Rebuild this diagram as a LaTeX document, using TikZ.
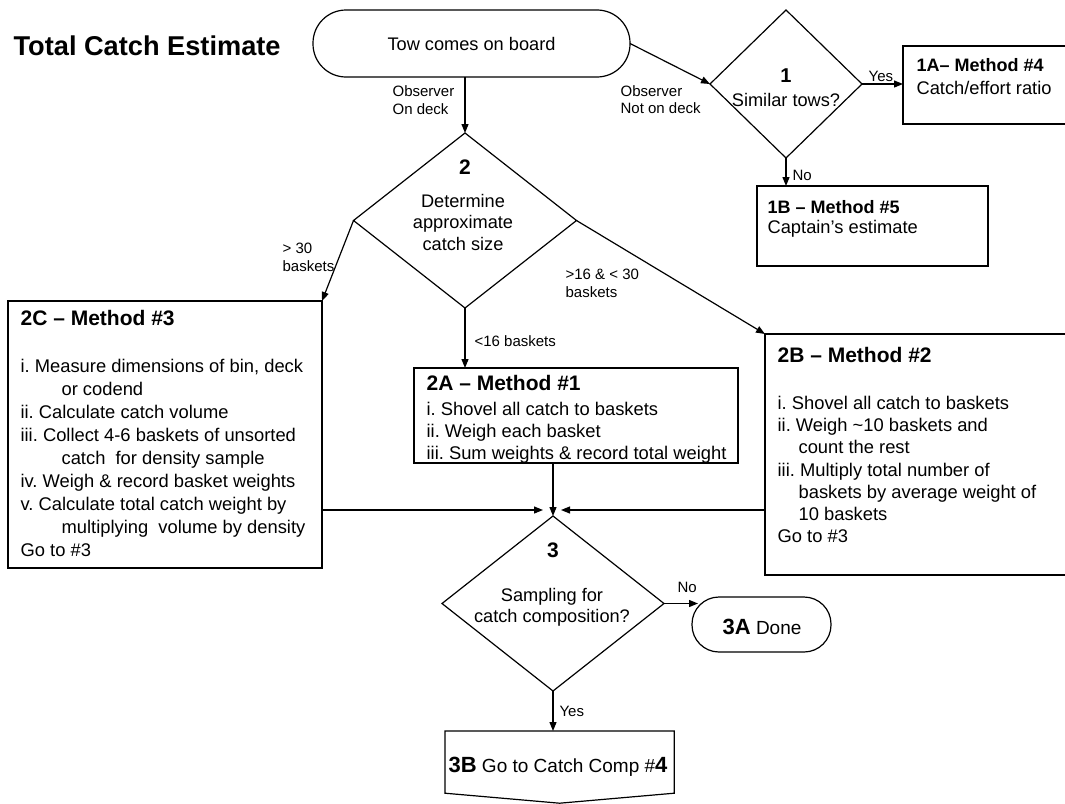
\documentclass[tikz,border=0pt]{standalone}
\usepackage{fontspec}
\setmainfont{Liberation Sans}
\usetikzlibrary{arrows.meta,shapes.geometric,calc}
\newcommand{\fsz}[2]{\fontsize{#1pt}{#2pt}\selectfont}
\frenchspacing
\begin{document}
\begin{tikzpicture}[x=1pt,y=-1pt,line width=1.2pt,
  box/.style={draw, rectangle, inner sep=0pt, outer sep=0pt, anchor=north west},
  term/.style={draw, rectangle, rounded corners=#1, inner sep=0pt, outer sep=0pt},
  dia/.style={draw, diamond, inner sep=0pt, outer sep=0pt},
  arr/.style={-{Triangle[length=9pt,width=7pt]}},
  lbl/.style={font=\fsz{15}{17.5}, anchor=base west, inner sep=0pt},
  lblm/.style={font=\fsz{15}{17.5}, anchor=north west, inner sep=0pt, align=left},
  body/.style={font=\fsz{18.35}{#1}, anchor=north west, inner sep=0pt, align=left},
  one/.style={font=\fsz{18.3}{22}, anchor=base west, inner sep=0pt},
  hd/.style={font=\bfseries\fsz{21}{24}, anchor=base west, inner sep=0pt},
  hds/.style={font=\bfseries\fsz{18}{22}, anchor=base west, inner sep=0pt},
  ctext/.style={font=\fsz{18.2}{#1}, anchor=north, inner sep=0pt, align=center},
  num/.style={font=\bfseries\fsz{21}{24}, anchor=base, inner sep=0pt},
]
\clip (0,0) rectangle (1065,803);
\fill[white] (0,0) rectangle (1065,803);

% title
\node[font=\bfseries\fsz{27.2}{32}, anchor=base west, inner sep=0pt] (title) at (13,55) {Total Catch Estimate};

% start terminal
\node[term=33pt, minimum width=317pt, minimum height=67pt, font=\fsz{18.2}{22}] (tow) at (471.5,43.5) {Tow comes on board};

% decision 1
\node[dia, minimum width=152pt, minimum height=148pt] (d1) at (786,84) {};
\node[num, font=\bfseries\fsz{20}{24}] (d1n) at (786,82) {1};
\node[ctext=21] (d1t) at (786,92.5) {Similar tows?};

% 1A and 1B
\node[box, minimum width=200pt, minimum height=78pt] (A1) at (903,46) {};
\node[hds] (A1h) at (916,71.5) {1A– Method \#4};
\node[one] (A1b) at (916,94.5) {Catch/effort ratio};
\node[box, minimum width=231pt, minimum height=80pt] (B1) at (757,186) {};
\node[hds] (B1h) at (767,213.5) {1B – Method \#5};
\node[one] (B1b) at (767,233.5) {Captain’s estimate};

% decision 2
\node[dia, minimum width=223pt, minimum height=175pt] (d2) at (465,220.5) {};
\node[num] (d2n) at (465,174.5) {2};
\node[ctext=21.5] (d2t) at (463,193.5) {Determine\\approximate\\catch size};

% 2A
\node[box, minimum width=324pt, minimum height=95pt] (A2) at (414,368) {};
\node[hd] (A2h) at (426,390.5) {2A – Method \#1};
\node[body=22] (A2b) at (426,401.5) {i. Shovel all catch to baskets\\ii. Weigh each basket\\iii. Sum weights \& record total weight};

% 2B
\node[box, minimum width=320pt, minimum height=241pt] (B2) at (765,334) {};
\node[hd] (B2h) at (777,362.5) {2B – Method \#2};
\node[body=22.2] (B2b) at (777,395.5) {i. Shovel all catch to baskets\\ii. Weigh \textasciitilde10 baskets and\\\hspace*{21pt}count the rest\\iii. Multiply total number of\\\hspace*{21pt}baskets by average weight of\\\hspace*{21pt}10 baskets\\Go to \#3};

% 2C
\node[box, minimum width=314pt, minimum height=267pt] (C2) at (8,301) {};
\node[hd] (C2h) at (20,325.5) {2C – Method \#3};
\node[body=23] (C2b) at (20,358.5) {i. Measure dimensions of bin, deck\\\hspace*{41pt}or codend\\ii. Calculate catch volume\\iii. Collect 4-6 baskets of unsorted\\\hspace*{41pt}catch\ \ for density sample\\iv. Weigh \& record basket weights\\v. Calculate total catch weight by\\\hspace*{41pt}multiplying\ \ volume by density\\Go to \#3};

% decision 3
\node[dia, minimum width=222pt, minimum height=175pt] (d3) at (553,603.5) {};
\node[num] (d3n) at (553,557.5) {3};
\node[ctext=21] (d3t) at (552,587.5) {Sampling for\\catch composition?};
\coordinate (jn) at ($(d3.north)+(0,-6)$);

% 3A
\node[term=27pt, minimum width=139pt, minimum height=55pt] (A3) at (761.5,624.5) {};
\node[inner sep=0pt, anchor=base] (A3t) at (762,634) {{\bfseries\fsz{22}{26}3A}{\fsz{19}{23} Done}};

% 3B off-page connector
\node[rectangle, inner sep=0pt, minimum width=228pt, minimum height=61pt, anchor=north west] (B3) at (445,731) {};
\node[inner sep=0pt, anchor=base] (B3t) at (558,772.5) {{\bfseries\fsz{22}{26}3B}{\fsz{19}{23} Go to Catch Comp \#}{\bfseries\fsz{22}{26}4}};
\coordinate (B3tip) at ($(B3.south)+(0,10)$);
\draw (B3.north west) -- (B3.north east) -- (B3.south east) -- (B3tip) -- (B3.south west) -- cycle;

% connectors
\draw[arr] (tow.south -| d2.north) -- (d2.north);
\draw[arr] (tow.east) -- (d1.west);
\draw[arr] (d1.east) -- (d1.east -| A1.west);
\draw[arr] (d1.south) -- (d1.south |- B1.north);
\draw[arr] (d2.west) -- (C2.north east);
\draw[arr] (d2.east) -- (B2.north west);
\draw[arr] (d2.south) -- (d2.south |- A2.north);
\draw[arr] (A2.south -| d3.north) -- (d3.north);
\draw[arr] (C2.east |- jn) -- ($(jn)+(-10,0)$);
\draw[arr] (B2.west |- jn) -- ($(jn)+(8,0)$);
\draw[arr] (d3.east) -- ($(d3.east -| A3.west)+(6,0)$);
\draw[arr] (d3.south) -- (d3.south |- B3.north);

% connector labels
\node[lblm] (lod) at (392,85.5) {Observer\\On deck};
\node[lblm] (lnod) at (620,85) {Observer\\Not on deck};
\node[lbl] (lyes1) at (868,81.5) {Yes};
\node[lbl] (lno1) at (792,180.5) {No};
\node[lblm] (l30) at (282,242.5) {> 30\\baskets};
\node[lblm] (l1630) at (565,268.5) {>16 \& < 30\\baskets};
\node[lbl] (l16) at (474,346.5) {<16 baskets};
\node[lbl] (lno3) at (677,592.5) {No};
\node[lbl] (lyes3) at (559,716.5) {Yes};
\end{tikzpicture}
\end{document}
